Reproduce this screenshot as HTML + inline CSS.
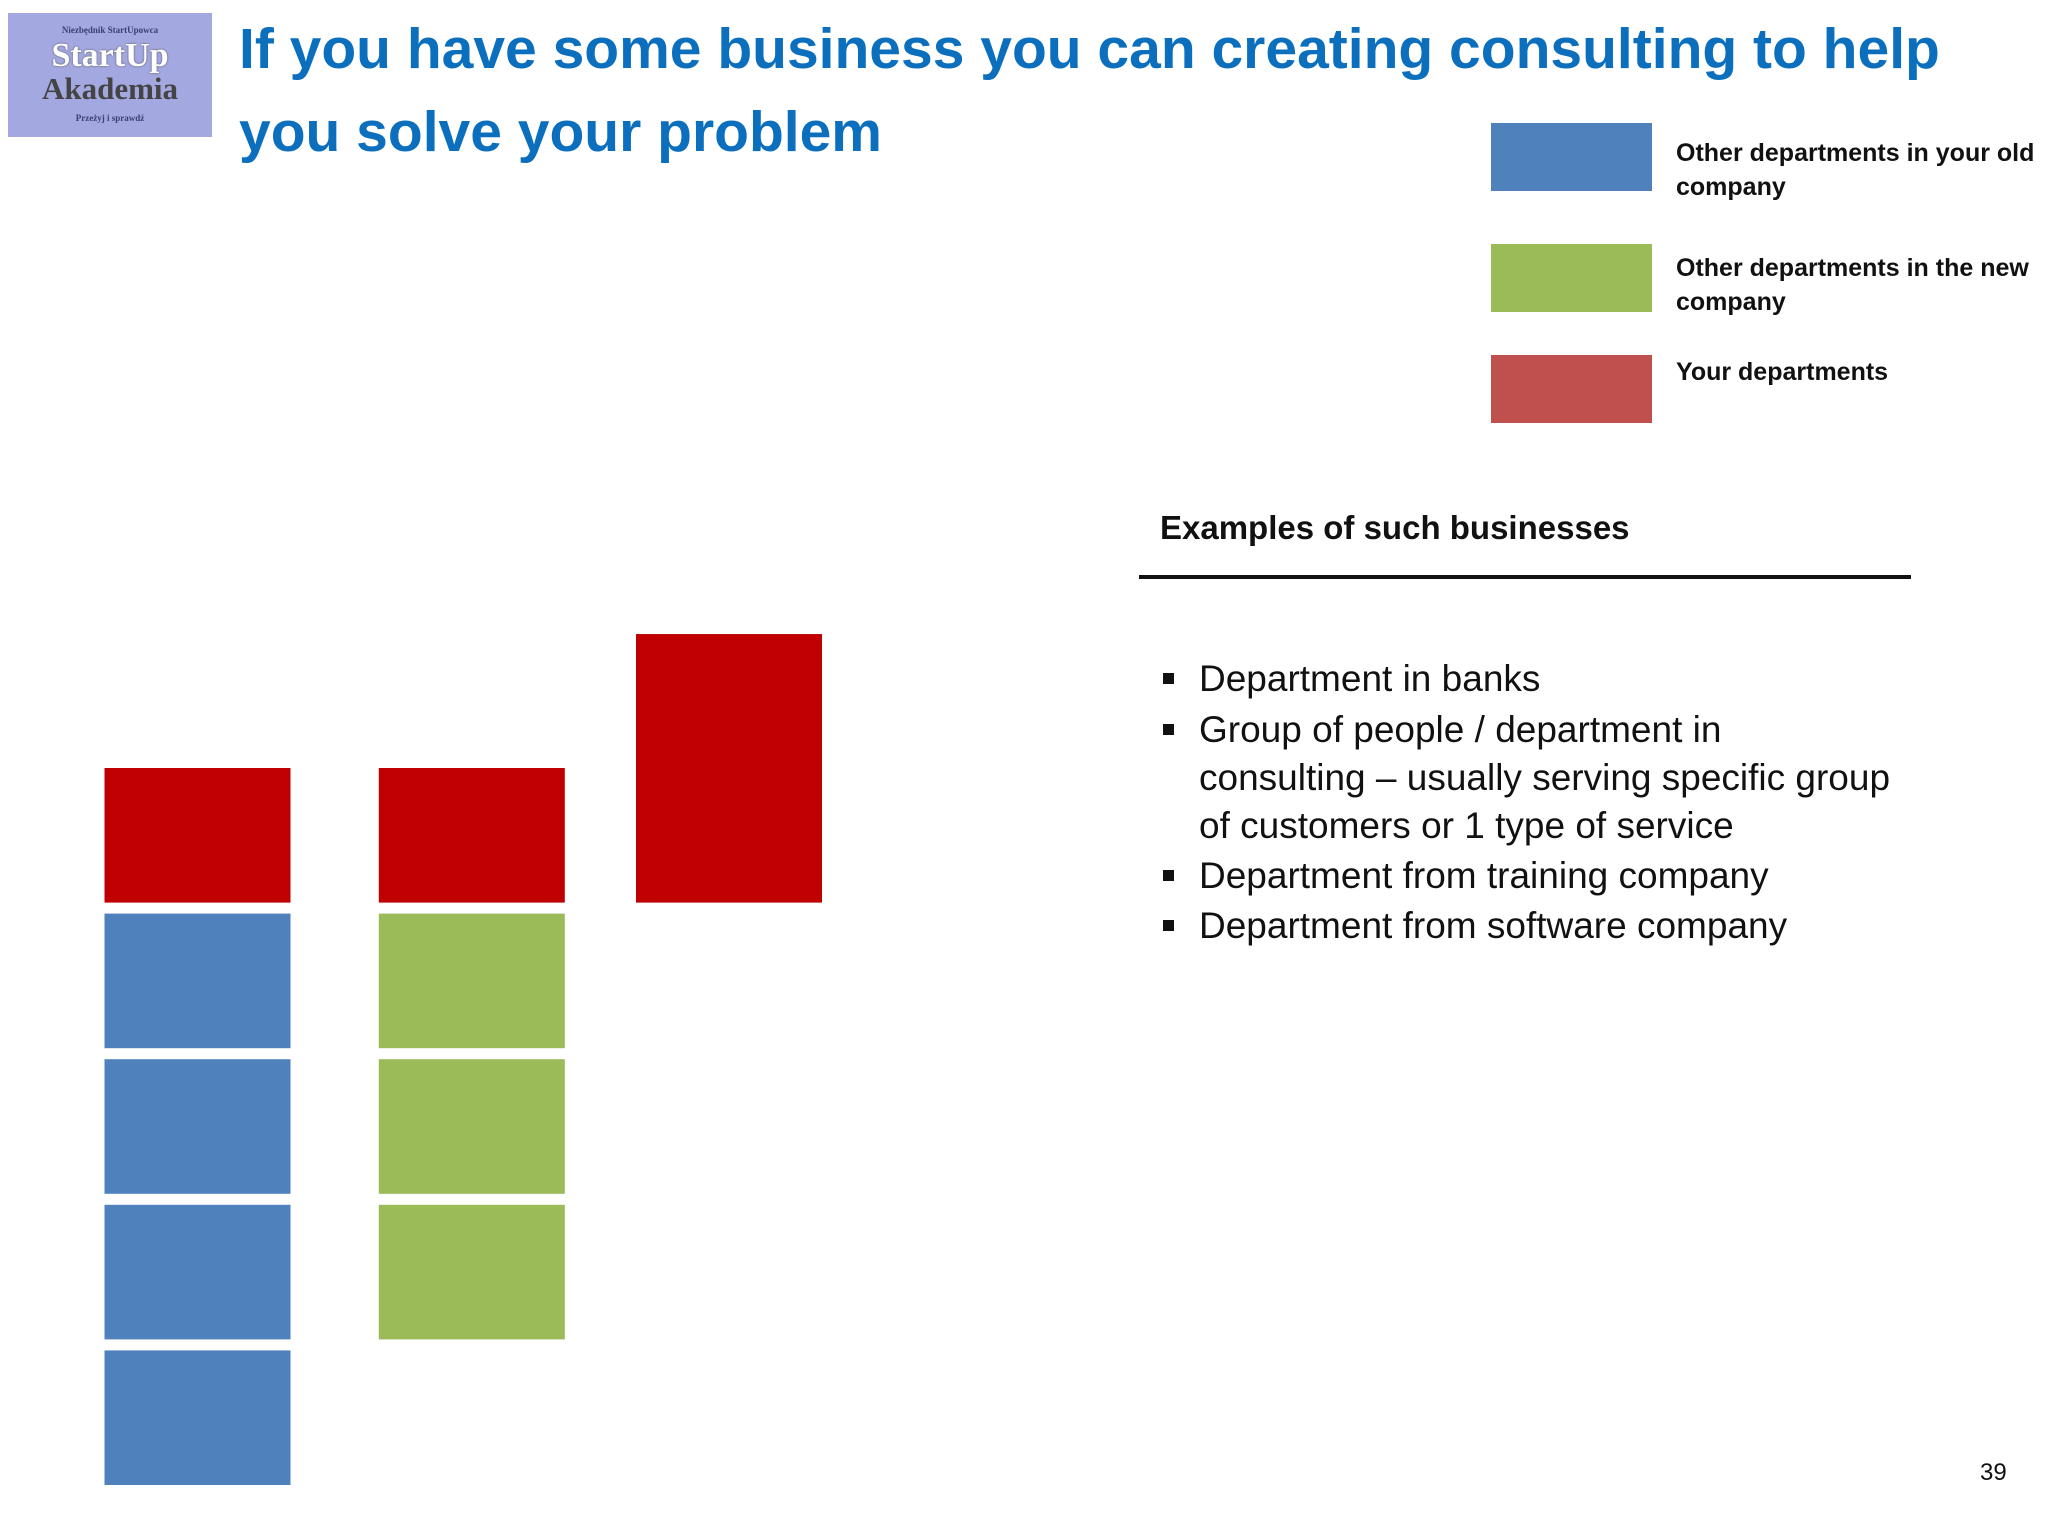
<!DOCTYPE html>
<html><head><meta charset="utf-8"><style>
body{margin:0;width:2048px;height:1536px;background:#fff;position:relative;overflow:hidden;font-family:"Liberation Sans",sans-serif}
.abs{position:absolute}
.title{left:239px;top:8px;font-size:57px;font-weight:bold;color:#0b6fbd;line-height:83px;width:1800px}
.leg{left:1676px;font-size:25px;font-weight:bold;color:#111;line-height:34px;width:370px}
.bl{left:1199px;font-size:37px;color:#111;line-height:48px;width:800px;white-space:nowrap}
.bul{left:1163px;width:11px;height:11px;background:#111}
</style></head><body>
<div class="abs" style="left:8px;top:13px;width:204px;height:124px;background:#a3a8e0;text-align:center;font-family:'Liberation Serif',serif">
 <div style="font-size:9px;color:#3a3f70;margin-top:12px;font-weight:bold">Niezbędnik StartUpowca</div>
 <div style="font-size:34px;font-weight:bold;color:#fff;line-height:34px;margin-top:4px;text-shadow:0 0 2px #555">StartUp</div>
 <div style="font-size:31px;font-weight:bold;color:#444;line-height:32px">Akademia</div>
 <div style="font-size:9px;color:#3a3f70;margin-top:8px;font-weight:bold">Przeżyj i sprawdź</div>
</div>
<div class="abs title">If you have some business you can creating consulting to help<br>you solve your problem</div>

<div class="abs" style="left:1491px;top:123px;width:161px;height:68px;background:#4f81bd"></div>
<div class="abs leg" style="top:136px">Other departments in your old company</div>
<div class="abs" style="left:1491px;top:244px;width:161px;height:68px;background:#9bbb59"></div>
<div class="abs leg" style="top:251px">Other departments in the new company</div>
<div class="abs" style="left:1491px;top:355px;width:161px;height:68px;background:#c0504d"></div>
<div class="abs leg" style="top:355px">Your departments</div>

<div class="abs" style="left:1160px;top:509px;font-size:33px;font-weight:bold;color:#111">Examples of such businesses</div>
<div class="abs" style="left:1139px;top:575px;width:772px;height:4px;background:#111"></div>

<div class="abs bul" style="top:673px"></div>
<div class="abs bl" style="top:655px">Department in banks</div>
<div class="abs bul" style="top:724px"></div>
<div class="abs bl" style="top:706px">Group of people / department in<br>consulting – usually serving specific group<br>of customers or 1 type of service</div>
<div class="abs bul" style="top:870px"></div>
<div class="abs bl" style="top:852px">Department from training company</div>
<div class="abs bul" style="top:920px"></div>
<div class="abs bl" style="top:902px">Department from software company</div>

<div class="abs" style="left:1980px;top:1459px;font-size:24px;color:#111">39</div>

<svg class="abs" style="left:0;top:0" width="2048" height="1536"></svg>
<script>
const columns=['old','new','yours'];
const segStart=[[0,4],[1,4],[4]];
const segSize=[[4,1],[3,1],[1.92]];
const segType=[['old','yours'],['new','yours'],['yoursBig']];
const colors={old:'#4f81bd',new:'#9bbb59',yours:'#c00000',yoursBig:'#c00000'};
const colX=[104.5,378.8,636];
const w=186, base=1485, pitch=145.6, gap=11;
const svg=document.querySelector('svg');
function yBottom(level){return base-level*pitch;}
columns.forEach((c,ci)=>{
  segStart[ci].forEach((s,si)=>{
    const n=segSize[ci][si], t=segType[ci][si];
    const stack=(t==='yoursBig')?1:n;
    for(let k=0;k<stack;k++){
      const r=document.createElementNS('http://www.w3.org/2000/svg','rect');
      let hh=(t==='yoursBig')?n*pitch-gap:pitch-gap;
      let y=yBottom(s+(t==='yoursBig'?0:k))-hh;
      r.setAttribute('x',colX[ci]);r.setAttribute('y',y);
      r.setAttribute('width',w);r.setAttribute('height',hh);
      r.setAttribute('fill',colors[t]);
      
      
      svg.appendChild(r);
    }
  });
});
</script>
</body></html>
